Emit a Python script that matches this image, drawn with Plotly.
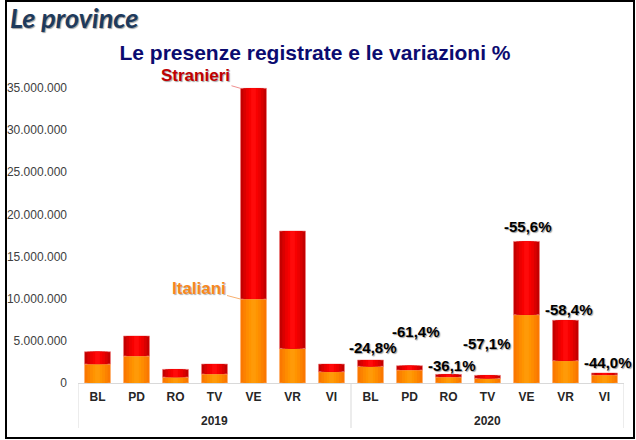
import plotly.graph_objects as go

# ---------------- data ----------------
province = ["BL", "PD", "RO", "TV", "VE", "VR", "VI"]
anni = ["2019", "2020"]
italiani_2019 = [2.25e6, 3.20e6, 0.70e6, 1.07e6, 9.96e6, 4.10e6, 1.34e6]
stranieri_2019 = [1.46e6, 2.38e6, 0.92e6, 1.18e6, 25.00e6, 13.93e6, 0.91e6]
italiani_2020 = [1.98e6, 1.54e6, 0.71e6, 0.56e6, 8.10e6, 2.65e6, 0.95e6]
stranieri_2020 = [0.75e6, 0.51e6, 0.32e6, 0.35e6, 8.70e6, 4.79e6, 0.24e6]
variazioni_2020 = [-24.8, -61.4, -36.1, -57.1, -55.6, -58.4, -44.0]
y_ticks = [0, 5e6, 10e6, 15e6, 20e6, 25e6, 30e6, 35e6]

# ---------------- derived ----------------
keys = [f"{a} {p}" for a in anni for p in province]
labels = province + province
italiani = italiani_2019 + italiani_2020
stranieri = stranieri_2019 + stranieri_2020
totale = [a + b for a, b in zip(italiani, stranieri)]
n = len(province)

W, H = 636, 440
L, R, T, B = 78, 12, 75, 57
ppm = 295 / 35e6  # px per unit
plot_w = W - L - R
plot_h = H - T - B
y_max = plot_h / ppm

fig = go.Figure()

# simulated horizontal gradient: layered bars of decreasing width
red_layers = [(0.667, "#C40000"), (0.52, "#DA0000"), (0.38, "#EC0000"), (0.24, "#F80000"), (0.12, "#FF0A0A")]
ora_layers = [(0.667, "#FA7800"), (0.52, "#FC8200"), (0.38, "#FE8C00"), (0.24, "#FF9400"), (0.12, "#FF9A08")]

for i, (w, c) in enumerate(ora_layers):
    fig.add_trace(go.Bar(
        x=keys, y=italiani, base=[0] * len(italiani),
        width=w, marker=dict(color=c, line=dict(width=0.6 if i == 0 else 0, color="#FFB070")),
        hoverinfo="skip", showlegend=False))
for i, (w, c) in enumerate(red_layers):
    fig.add_trace(go.Bar(
        x=keys, y=stranieri, base=italiani,
        width=w, marker=dict(color=c, line=dict(width=0.6 if i == 0 else 0, color="#F08080")),
        hoverinfo="skip", showlegend=False))

# percentage labels (2020)
dx = [2, 6, 3, -1, 1, 3, 3]
dy = [12, 34, 9, 32, 15, 11, 10]
for i, v in enumerate(variazioni_2020):
    idx = n + i
    txt = ("%.1f%%" % v).replace(".", ",")
    fig.add_annotation(
        x=idx, y=totale[idx], text=txt, showarrow=False,
        xanchor="center", yanchor="middle", xshift=dx[i], yshift=dy[i],
        font=dict(family="Liberation Sans, Arial", size=15, color="#000000",
                  weight="bold", shadow="1px 1px 1px #9a9a9a"))

# series labels with leader lines (on VE 2019)
ve = province.index("VE")
fig.add_annotation(
    x=ve - 0.333, y=totale[ve], text="Stranieri", showarrow=True, arrowhead=0,
    arrowwidth=1, arrowcolor="#F09090", ax=-45, ay=-13,
    font=dict(family="Liberation Sans, Arial", size=17, color="#C00000",
              weight="bold", shadow="1px 1px 1px #a0a0a0"))
fig.add_annotation(
    x=ve - 0.333, y=italiani[ve], text="Italiani", showarrow=True, arrowhead=0,
    arrowwidth=1, arrowcolor="#F8B070", ax=-42, ay=-11,
    font=dict(family="Liberation Sans, Arial", size=17, color="#F7881E",
              weight="bold", shadow="1px 1px 1px #b0b0b0"))

# group (year) labels and dividers
for g, a in enumerate(anni):
    fig.add_annotation(
        x=g * n + (n - 1) / 2, y=-38 / plot_h, yref="paper", text=a, showarrow=False,
        xanchor="center", yanchor="middle",
        font=dict(family="Liberation Sans, Arial", size=12, color="#262626", weight="bold"))
for g in range(len(anni) + 1):
    fig.add_shape(type="line", xref="x", yref="paper", x0=g * n - 0.5, x1=g * n - 0.5,
                  y0=0, y1=-45 / plot_h, line=dict(color="#D9D9D9", width=1))

# header
fig.add_annotation(
    xref="paper", yref="paper", x=(8 - L) / plot_w, y=(H - B - 18) / plot_h,
    xanchor="left", yanchor="middle", text="<i>Le province</i>", showarrow=False,
    font=dict(family="Lato, Open Sans", size=27, color="#1E3A5C",
              weight="bold", shadow="1px 1px 1px #a0a0a0"))

# frame
fig.add_shape(type="rect", xref="paper", yref="paper",
              x0=(6 - L) / plot_w, x1=(634 - L) / plot_w,
              y0=(H - B - 438) / plot_h, y1=(H - B - 1) / plot_h,
              line=dict(color="#000000", width=2), fillcolor="rgba(0,0,0,0)", layer="above")

fig.update_layout(
    width=W, height=H, margin=dict(l=L, r=R, t=T, b=B, autoexpand=False),
    paper_bgcolor="white", plot_bgcolor="white",
    barmode="overlay", separators=",.",
    title=dict(text="<b>Le presenze registrate e le variazioni %</b>",
               xref="container", x=315 / W, y=1 - 53 / H, xanchor="center", yanchor="middle",
               font=dict(family="Liberation Sans, Arial", size=21, color="#0B0B70")),
    xaxis=dict(type="category", range=[-0.5, 2 * n - 0.5], showline=True, linecolor="#D9D9D9",
               linewidth=1, showgrid=False, ticks="", automargin=False,
               tickvals=keys, ticktext=labels, ticklabelstandoff=3,
               tickfont=dict(family="Liberation Sans, Arial", size=12, color="#262626", weight="bold")),
    yaxis=dict(range=[0, y_max], tickvals=y_ticks, tickformat=",d", showgrid=False,
               zeroline=False, showline=False, ticks="", ticklabelstandoff=10, automargin=False,
               tickfont=dict(family="Liberation Sans, Arial", size=12, color="#404040")),
)

fig.write_html("out.html", config={"displayModeBar": False})

# remove the browser's default page margin so the figure sits at (0, 0)
with open("out.html", "r", encoding="utf-8") as f:
    html = f.read()
html = html.replace("<body>", '<body style="margin:0;padding:0;overflow:hidden">', 1)
with open("out.html", "w", encoding="utf-8") as f:
    f.write(html)
